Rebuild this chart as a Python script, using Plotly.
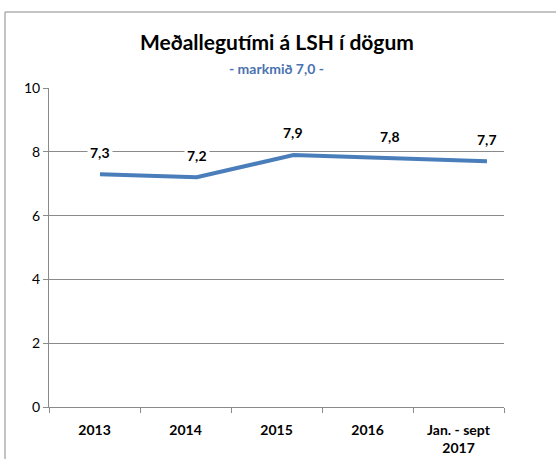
import plotly.graph_objects as go

categories = ["2013", "2014", "2015", "2016", "Jan. - sept<br>2017"]
values = [7.3, 7.2, 7.9, 7.8, 7.7]
y_ticks = [0, 2, 4, 6, 8, 10]

font_family = "Lato, 'Open Sans', sans-serif"
positions = list(range(len(values)))

fig = go.Figure()
fig.add_trace(go.Scatter(
    x=categories, y=[None] * len(categories), mode="lines",
    hoverinfo="skip", showlegend=False,
))
fig.add_trace(go.Scatter(
    x=positions, y=values, mode="lines", xaxis="x2",
    line=dict(color="#4a7ebb", width=4),
    hoverinfo="skip", showlegend=False,
))

for i, v in zip(positions, values):
    fig.add_annotation(
        x=i, y=v, xref="x2", yref="y",
        text="<b>" + f"{v:.1f}".replace(".", ",") + "</b>",
        showarrow=False, yshift=22, bgcolor="white",
        xanchor="center", yanchor="middle",
        font=dict(size=14, color="black", family=font_family),
        borderpad=2,
    )

fig.add_annotation(
    x=0.5, y=1.0 + (88 - 42) / 319, xref="paper", yref="paper",
    xanchor="center", yanchor="middle",
    text="<b>Meðallegutími á LSH í dögum</b>", showarrow=False,
    font=dict(size=21, color="black", family=font_family),
)
fig.add_annotation(
    x=0.5, y=1.0 + (88 - 68) / 319, xref="paper", yref="paper",
    xanchor="center", yanchor="middle",
    text="<b>- markmið 7,0 -</b>", showarrow=False,
    font=dict(size=14, color="#4a72b0", family=font_family),
)

fig.add_shape(
    type="rect", xref="paper", yref="paper",
    x0=(5 - 49) / 455, x1=1.5, y0=-0.5, y1=1 + (88 - 12) / 319,
    line=dict(color="#8a8a8a", width=1), layer="below",
)

fig.update_layout(
    width=556, height=459,
    margin=dict(l=49, r=52, t=88, b=52, autoexpand=False),
    paper_bgcolor="white", plot_bgcolor="white",
    font=dict(family=font_family, size=13, color="black"),
    xaxis2=dict(
        overlaying="x", type="linear", range=[-0.527, 4.176],
        visible=False, fixedrange=True,
    ),
)
fig.layout.xaxis.update(
    type="category", categoryorder="array", categoryarray=categories,
    range=[-0.5, len(categories) - 0.5], automargin=False,
    showgrid=False, showline=True, linecolor="#8a8a8a", linewidth=1,
    ticks="outside", tickson="boundaries", ticklen=5, tickcolor="#8a8a8a",
    tickfont=dict(size=14, family=font_family),
    tickprefix="<b>", ticksuffix="</b>", tickangle=0,
    ticklabelstandoff=10,
    fixedrange=True,
)
fig.update_yaxes(
    range=[0, 10], tickvals=y_ticks, showgrid=True, gridcolor="#8a8a8a", gridwidth=1,
    showline=True, linecolor="#8a8a8a", linewidth=1, zeroline=False,
    ticks="outside", ticklen=5, tickcolor="#8a8a8a", automargin=False,
    tickfont=dict(size=14, family=font_family),
    fixedrange=True,
)

fig.write_html(
    "out.html",
    config=dict(displayModeBar=False),
    post_script="document.body.style.margin='0';document.body.style.overflow='hidden';",
)
